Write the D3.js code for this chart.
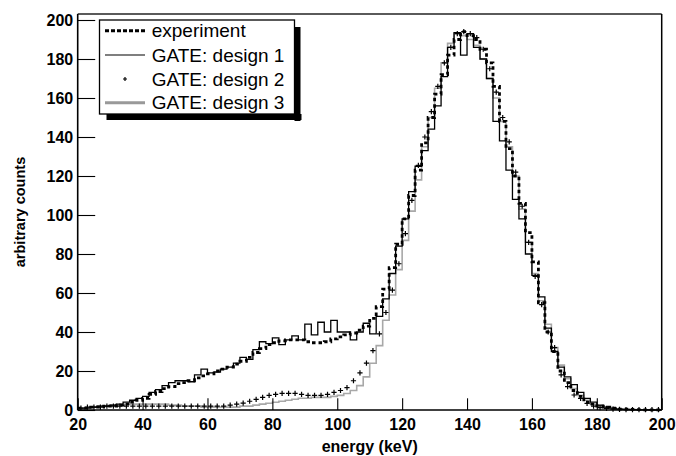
<!DOCTYPE html>
<html>
<head>
<meta charset="utf-8">
<script src="https://cdn.jsdelivr.net/npm/d3@7"></script>
<style>
  html, body { margin: 0; padding: 0; background: #fff; }
  svg { display: block; }
  text { font-family: "Liberation Sans", Arial, Helvetica, sans-serif; }
</style>
</head>
<body>
<svg id="chart" width="676" height="456"></svg>
<script>
// Energy histograms, 2 keV bins from 20 to 200 keV
const binLow = 20;
const binWidth = 2;

const experiment = [
  1, 1, 1.5, 1.5, 2, 2, 2.5, 3, 4, 5,
  6, 8, 9.5, 11, 12, 13.5, 14, 15, 16.5, 17.5,
  18.5, 20, 21, 22, 23.5, 25, 27, 29.5, 31.5, 33.5,
  34.5, 35.5, 36, 36, 36, 35, 34.5, 34.5, 35, 36.5,
  37.5, 38.5, 39.5, 41, 43, 47, 53, 62, 73, 85,
  98, 110, 123, 137, 150, 162, 172, 182, 190, 194,
  192, 190, 185, 178, 166, 148, 134, 120, 106, 91,
  76, 55, 40, 30, 20, 14, 10, 7, 4, 3,
  2, 1.5, 1, 0.5, 0.5, 0.3, 0.2, 0.1, 0.1, 0.1
];

const design1 = [
  1, 1, 1.5, 2, 2, 2.5, 3, 4, 5, 6,
  7, 9, 10.5, 12.5, 14, 15, 15, 14.5, 18, 21,
  19, 19.5, 21, 22, 24, 27, 26, 31, 35, 34,
  37, 33.5, 36, 38, 36, 44, 38.5, 45, 40, 46,
  40, 40, 36, 40, 44.5, 39, 48, 57, 70, 84,
  98, 112, 125, 133, 144, 156, 171, 186, 193.5, 182,
  193, 186, 180, 170, 148, 138, 123, 108, 98, 80,
  69, 58, 42, 30, 22, 17, 13, 9, 6, 4,
  2.5, 1.5, 1, 0.5, 0.3, 0.2, 0.1, 0.1, 0, 0
];

const design2 = [
  1, 1.5, 1.5, 1.5, 2, 2, 2, 2, 2, 2,
  2, 2, 2, 2, 2, 2, 2, 2, 2, 2,
  2, 2, 2, 2.5, 3, 3.5, 4.5, 5.5, 6.5, 7.5,
  8, 8.5, 8.5, 8.5, 8, 7.5, 7.5, 7.5, 8, 9,
  10, 11.5, 15, 19, 24, 30.5, 39, 50, 61.5, 75,
  90.5, 107.5, 125.5, 140, 153, 166, 178, 186, 193, 194,
  193, 191, 185, 175, 163, 150, 137.5, 122, 104.5, 86,
  68.5, 54, 40, 32, 18, 12, 7.7, 6, 3.4, 2,
  1.2, 0.8, 0.5, 0.3, 0.2, 0.2, 0.2, 0.2, 0.2, 0.2
];

const design3 = [
  0.5, 1, 1.5, 2, 2, 2.5, 2.5, 3, 3, 3,
  3, 3, 3, 3, 2.5, 2.5, 2, 2, 2, 1.5,
  1.5, 1.5, 1.5, 1.5, 1.5, 2, 2, 2.5, 3, 3.5,
  4, 4.5, 5, 5.5, 6, 6, 6.5, 6.5, 6.5, 7,
  7.5, 8.5, 10, 12.5, 17, 24, 33, 46, 59, 72,
  87, 102, 118, 135, 150, 165, 178, 188, 193, 192,
  190, 187, 180, 170, 160, 148, 135, 120, 103, 86,
  70, 56, 44, 32, 23, 16, 11, 7.5, 5, 3,
  2, 1.3, 0.8, 0.5, 0.3, 0.2, 0.1, 0.1, 0, 0
];

const xTicks = [20, 40, 60, 80, 100, 120, 140, 160, 180, 200];
const yTicks = [0, 20, 40, 60, 80, 100, 120, 140, 160, 180, 200];
const legendLabels = ["experiment", "GATE: design 1", "GATE: design 2", "GATE: design 3"];

const svg = d3.select("#chart");
const x = d3.scaleLinear().domain([20, 200]).range([77.7, 661.7]);
const y = d3.scaleLinear().domain([0, 200]).range([410, 20]);
const yTop = 203.08;

const edges = v => v.map((d, i) => [binLow + i * binWidth, binLow + (i + 1) * binWidth, d]);
function stepPath(values) {
  const pts = [];
  edges(values).forEach(([a, b, v]) => { pts.push([a, v]); pts.push([b, v]); });
  return d3.line().x(d => x(d[0])).y(d => y(d[1]))(pts);
}

const plot = svg.append("g");

// design 3: grey outline
plot.append("path").attr("d", stepPath(design3))
  .attr("fill", "none").attr("stroke", "#a8a8a8").attr("stroke-width", 1.6);
// design 1: thin black outline
plot.append("path").attr("d", stepPath(design1))
  .attr("fill", "none").attr("stroke", "#000").attr("stroke-width", 1.3);
// experiment: thick dotted outline
plot.append("path").attr("d", stepPath(experiment))
  .attr("fill", "none").attr("stroke", "#000").attr("stroke-width", 2.8)
  .attr("stroke-dasharray", "3.5,3");
// design 2: plus markers at bin centres
const cross = 2.6;
plot.append("g").selectAll("path").data(edges(design2)).join("path")
  .attr("d", d => {
    const cx = x((d[0] + d[1]) / 2), cy = y(d[2]);
    return `M${cx - cross},${cy}H${cx + cross}M${cx},${cy - cross}V${cy + cross}`;
  })
  .attr("stroke", "#000").attr("stroke-width", 1.2);

// frame
svg.append("line").attr("x1", x(20)).attr("x2", x(200)).attr("y1", y(yTop)).attr("y2", y(yTop))
  .attr("stroke", "#5a5a5a").attr("stroke-width", 2);
svg.append("line").attr("x1", x(200)).attr("x2", x(200)).attr("y1", y(yTop)).attr("y2", y(0))
  .attr("stroke", "#000").attr("stroke-width", 1.5);

// x axis
const minorX = d3.range(20, 201, 5).filter(v => v % 20 !== 0);
const gx = svg.append("g").attr("transform", `translate(0,${y(0)})`);
gx.call(d3.axisBottom(x).tickValues(minorX).tickSize(-5.9).tickFormat(""));
gx.call(d3.axisBottom(x).tickValues(xTicks).tickSize(-11.7).tickPadding(8.5).tickFormat(d3.format("d")));
gx.selectAll(".domain").remove();
gx.selectAll("line").attr("stroke", "#000").attr("stroke-width", 1.1);
gx.selectAll("text").attr("font-size", 16).attr("font-weight", "bold").attr("fill", "#000");

// y axis
const minorY = d3.range(0, 201, 4).filter(v => v % 20 !== 0);
const gy = svg.append("g").attr("transform", `translate(${x(20)},0)`);
gy.call(d3.axisLeft(y).tickValues(minorY).tickSize(-8.8).tickFormat(""));
gy.call(d3.axisLeft(y).tickValues(yTicks).tickSize(-17.5).tickPadding(4.5).tickFormat(d3.format("d")));
gy.selectAll(".domain").remove();
gy.selectAll("line").attr("stroke", "#000").attr("stroke-width", 1.1);
gy.selectAll("text").attr("font-size", 16).attr("font-weight", "bold").attr("fill", "#000");

svg.append("line").attr("x1", x(20)).attr("x2", x(200)).attr("y1", y(0)).attr("y2", y(0))
  .attr("stroke", "#000").attr("stroke-width", 1.6);
svg.append("line").attr("x1", x(20)).attr("x2", x(20)).attr("y1", y(yTop)).attr("y2", y(0))
  .attr("stroke", "#000").attr("stroke-width", 1.6);

// axis titles
svg.append("text").attr("x", (x(20) + x(200)) / 2).attr("y", 452)
  .attr("text-anchor", "middle").attr("font-size", 16).attr("font-weight", "bold")
  .text("energy (keV)");
svg.append("text").attr("transform", `translate(25,${(y(0) + y(yTop)) / 2}) rotate(-90)`)
  .attr("text-anchor", "middle").attr("font-size", 14.5).attr("font-weight", "bold")
  .text("arbitrary counts");

// legend
const lg = svg.append("g");
const lx0 = 99.5, ly0 = 20, lw = 195, lh = 94;
lg.append("rect").attr("x", lx0 + 7).attr("y", ly0 + lh).attr("width", lw).attr("height", 6).attr("fill", "#000");
lg.append("rect").attr("x", lx0 + lw).attr("y", ly0 + 7).attr("width", 6).attr("height", lh).attr("fill", "#000");
lg.append("rect").attr("x", lx0).attr("y", ly0).attr("width", lw).attr("height", lh)
  .attr("fill", "#fff").attr("stroke", "#000").attr("stroke-width", 1.3);
const rowY = [30.7, 55, 79, 102.7];
legendLabels.forEach((t, i) => {
  lg.append("text").attr("x", 151.7).attr("y", rowY[i]).attr("dy", "0.35em")
    .attr("font-size", 19).text(t);
});
lg.append("line").attr("x1", 105).attr("x2", 145).attr("y1", rowY[0]).attr("y2", rowY[0])
  .attr("stroke", "#000").attr("stroke-width", 3).attr("stroke-dasharray", "4,2");
lg.append("line").attr("x1", 105).attr("x2", 145).attr("y1", rowY[1]).attr("y2", rowY[1])
  .attr("stroke", "#555").attr("stroke-width", 1.3);
lg.append("path").attr("d", `M${125 - 2},${rowY[2]}H${125 + 2}M125,${rowY[2] - 2}V${rowY[2] + 2}`)
  .attr("stroke", "#000").attr("stroke-width", 1.2);
lg.append("line").attr("x1", 105).attr("x2", 145).attr("y1", rowY[3]).attr("y2", rowY[3])
  .attr("stroke", "#999").attr("stroke-width", 3);
</script>
</body>
</html>
